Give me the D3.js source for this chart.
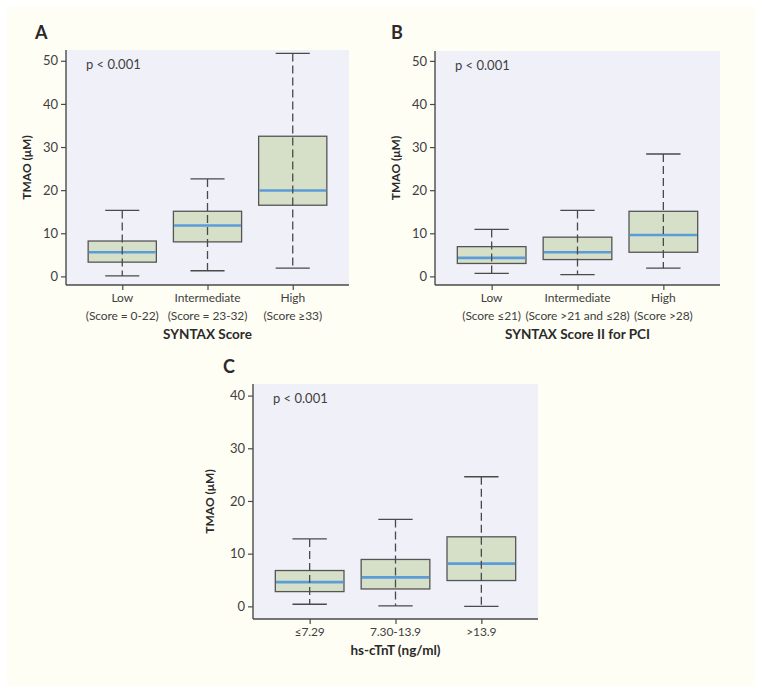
<!DOCTYPE html>
<html>
<head>
<meta charset="utf-8">
<script src="https://cdn.jsdelivr.net/npm/d3@7"></script>
<style>
  body { margin: 0; background: #ffffff; }
  svg { display: block; font-family: Lato, "Noto Sans", sans-serif; }
</style>
</head>
<body>
<svg id="chart" width="762" height="693"></svg>
<script>
// ---- Data ----
// Panel A: SYNTAX Score
const catsA = ["Low|(Score = 0-22)", "Intermediate|(Score = 23-32)", "High|(Score \u226533)"];
const minA = [0.1, 1.3, 1.9];
const q1A = [3.3, 8.0, 16.5];
const medA = [5.6, 11.8, 19.9];
const q3A = [8.2, 15.1, 32.5];
const maxA = [15.3, 22.6, 51.7];
const ticksA = [0, 10, 20, 30, 40, 50];

// Panel B: SYNTAX Score II for PCI
const catsB = ["Low|(Score \u226421)", "Intermediate|(Score >21 and \u226428)", "High|(Score >28)"];
const minB = [0.7, 0.4, 1.9];
const q1B = [3.0, 3.9, 5.6];
const medB = [4.3, 5.6, 9.6];
const q3B = [6.9, 9.1, 15.1];
const maxB = [10.9, 15.3, 28.4];
const ticksB = [0, 10, 20, 30, 40, 50];

// Panel C: hs-cTnT
const catsC = ["\u22647.29", "7.30-13.9", ">13.9"];
const minC = [0.4, 0.1, 0.0];
const q1C = [2.8, 3.3, 4.9];
const medC = [4.6, 5.5, 8.1];
const q3C = [6.8, 8.9, 13.2];
const maxC = [12.8, 16.5, 24.6];
const ticksC = [0, 10, 20, 30, 40];

// ---- Drawing ----
const svg = d3.select("#chart");
svg.append("rect").attr("x", 7).attr("y", 7).attr("width", 748).attr("height", 679)
  .attr("fill", "#fefef4");

const textCol = "#3f3f3f";
const lineCol = "#4a4a4a";
const FONT = "Lato, 'Noto Sans', sans-serif";

function panel(opts) {
  const { x0, x1, y0, y1, domain, cats, mins, q1s, meds, q3s, maxs, ticks,
          letter, letterX, letterY, xTitle, yTitleX } = opts;
  const g = svg.append("g");
  g.append("rect").attr("x", x0).attr("y", y0).attr("width", x1 - x0).attr("height", y1 - y0)
    .attr("fill", "#eff0f8");

  const y = d3.scaleLinear().domain(domain).range([y1, y0]);
  const x = d3.scalePoint().domain(cats).range([x0, x1]).padding(0.66);
  const bw = x.step() * 0.8;

  const data = cats.map((c, i) => ({ c, min: mins[i], q1: q1s[i], med: meds[i], q3: q3s[i], max: maxs[i] }));

  const bx = g.selectAll("g.box").data(data).join("g").attr("class", "box");
  bx.append("rect")
    .attr("x", d => x(d.c) - bw / 2).attr("width", bw)
    .attr("y", d => y(d.q3)).attr("height", d => y(d.q1) - y(d.q3))
    .attr("fill", "#d6e0c9").attr("stroke", "#555").attr("stroke-width", 1.3);
  bx.append("line")
    .attr("x1", d => x(d.c) - bw / 2 + 0.7).attr("x2", d => x(d.c) + bw / 2 - 0.7)
    .attr("y1", d => y(d.med)).attr("y2", d => y(d.med))
    .attr("stroke", "#5b9bd8").attr("stroke-width", 2.6);
  bx.append("line")
    .attr("x1", d => x(d.c)).attr("x2", d => x(d.c))
    .attr("y1", d => y(d.max)).attr("y2", d => y(d.min))
    .attr("stroke", lineCol).attr("stroke-width", 1.3).attr("stroke-dasharray", "8,4");
  ["min", "max"].forEach(k => {
    bx.append("line")
      .attr("x1", d => x(d.c) - bw / 4).attr("x2", d => x(d.c) + bw / 4)
      .attr("y1", d => y(d[k])).attr("y2", d => y(d[k]))
      .attr("stroke", lineCol).attr("stroke-width", 1.3);
  });

  // y axis
  const ya = g.append("g").attr("transform", `translate(${x0},0)`)
    .call(d3.axisLeft(y).tickValues(ticks).tickSize(5).tickPadding(3).tickSizeOuter(0));
  ya.select(".domain").remove();
  ya.selectAll(".tick line").attr("stroke", lineCol).attr("stroke-width", 1.2);
  ya.selectAll(".tick text").attr("fill", textCol).attr("font-size", 13)
    .attr("font-family", FONT);
  g.append("line").attr("x1", x0).attr("x2", x0).attr("y1", y0).attr("y2", y1)
    .attr("stroke", lineCol).attr("stroke-width", 1.4);

  // x axis
  const xa = g.append("g").attr("transform", `translate(0,${y1})`)
    .call(d3.axisBottom(x).tickSize(5).tickSizeOuter(0).tickFormat(""));
  xa.select(".domain").remove();
  xa.selectAll(".tick line").attr("stroke", lineCol).attr("stroke-width", 1.2);
  g.append("line").attr("x1", x0).attr("x2", x1).attr("y1", y1).attr("y2", y1)
    .attr("stroke", lineCol).attr("stroke-width", 1.4);

  cats.forEach(c => {
    const parts = c.split("|");
    parts.forEach((p, j) => {
      g.append("text").attr("x", x(c)).attr("y", y1 + 17 + j * 18)
        .attr("text-anchor", "middle").attr("fill", textCol).attr("font-size", 12)
        .attr("letter-spacing", -0.1)
        .text(p);
    });
  });

  const nLines = cats[0].split("|").length;
  g.append("text").attr("x", (x0 + x1) / 2).attr("y", y1 + 18 + nLines * 18)
    .attr("text-anchor", "middle").attr("fill", "#2a2a2a").attr("font-size", 13.5)
    .attr("font-weight", 700).text(xTitle);

  g.append("text").attr("transform", `translate(${yTitleX},${(y0 + y1) / 2}) rotate(-90)`)
    .attr("text-anchor", "middle").attr("fill", "#2a2a2a").attr("font-size", 12)
    .attr("font-weight", 700).text("TMAO (\u03bcM)");

  g.append("text").attr("x", x0 + 20).attr("y", y0 + 19)
    .attr("fill", textCol).attr("font-size", 13).text("p < 0.001");

  g.append("text").attr("x", letterX).attr("y", letterY)
    .attr("fill", "#2a2a2a").attr("font-size", 18).attr("font-weight", 700).text(letter);
}

panel({ x0: 66, x1: 349, y0: 50, y1: 285, domain: [-2, 52.5], cats: catsA,
  mins: minA, q1s: q1A, meds: medA, q3s: q3A, maxs: maxA, ticks: ticksA,
  letter: "A", letterX: 35, letterY: 39, xTitle: "SYNTAX Score", yTitleX: 31 });

panel({ x0: 435, x1: 720, y0: 51, y1: 285, domain: [-2, 52.3], cats: catsB,
  mins: minB, q1s: q1B, meds: medB, q3s: q3B, maxs: maxB, ticks: ticksB,
  letter: "B", letterX: 391, letterY: 39, xTitle: "SYNTAX Score II for PCI", yTitleX: 400 });

panel({ x0: 253, x1: 538, y0: 384, y1: 619, domain: [-2.4, 42.2], cats: catsC,
  mins: minC, q1s: q1C, meds: medC, q3s: q3C, maxs: maxC, ticks: ticksC,
  letter: "C", letterX: 223, letterY: 373, xTitle: "hs-cTnT (ng/ml)", yTitleX: 214 });
</script>
</body>
</html>
